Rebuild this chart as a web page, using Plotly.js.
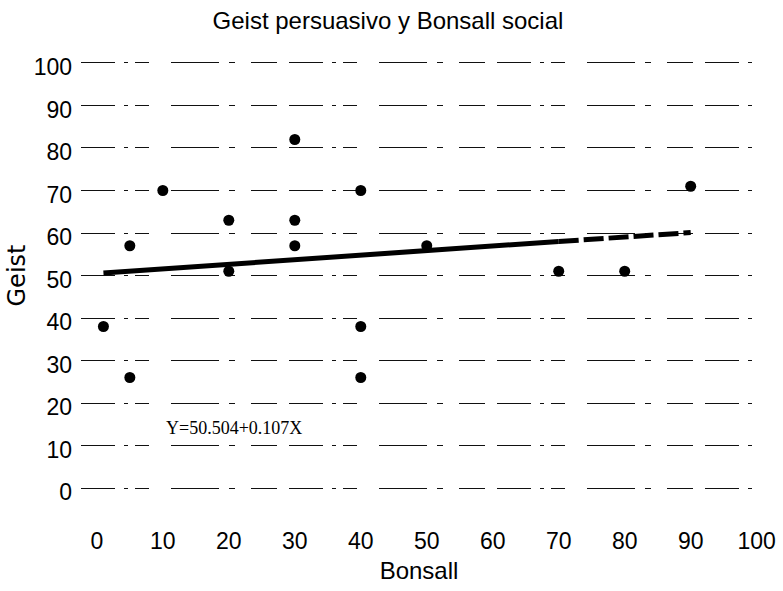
<!DOCTYPE html>
<html>
<head>
<meta charset="utf-8">
<script src="https://cdn.plot.ly/plotly-3.0.1.min.js"></script>
<style>html,body{margin:0;padding:0;background:#fff;}#chart{width:783px;height:591px;}</style>
</head>
<body>
<div id="chart"></div>
<script>
// Data
const bonsall = [1, 5, 5, 10, 20, 20, 30, 30, 30, 40, 40, 40, 50, 70, 80, 90];
const geist   = [38, 26, 57, 70, 63, 51, 82, 63, 57, 70, 38, 26, 57, 51, 51, 71];

// Regression line Y = 50.504 + 0.107X (solid part, then dashed part)
const fitSolidX = [1, 70];
const fitSolidY = [50.6, 58.0];
const fitDashX  = [70, 90];
const fitDashY  = [58.0, 60.1];

const xTicks = [0, 10, 20, 30, 40, 50, 60, 70, 80, 90, 100];
const yTicks = [0, 10, 20, 30, 40, 50, 60, 70, 80, 90, 100];

const chartTitle = 'Geist persuasivo y Bonsall social';
const xLabel = 'Bonsall';
const yLabel = 'Geist';
const equation = 'Y=50.504+0.107X';

const sans = '"Liberation Sans", Arial, sans-serif';

const traces = [
  {
    x: fitSolidX, y: fitSolidY, type: 'scatter', mode: 'lines',
    line: {color: '#000', width: 5}, hoverinfo: 'skip', showlegend: false
  },
  {
    x: fitDashX, y: fitDashY, type: 'scatter', mode: 'lines',
    line: {color: '#000', width: 5, dash: '20px,5px'}, hoverinfo: 'skip', showlegend: false
  },
  {
    x: bonsall, y: geist, type: 'scatter', mode: 'markers',
    marker: {color: '#000', size: 11, symbol: 'circle'}, showlegend: false
  }
];

const layout = {
  width: 783, height: 591,
  paper_bgcolor: '#fff', plot_bgcolor: '#fff',
  margin: {l: 81, r: 26, t: 55, b: 95},
  title: {
    text: chartTitle,
    font: {family: sans, size: 24, color: '#000'},
    x: 0.4955, xref: 'container', xanchor: 'center',
    y: 0.9645, yref: 'container', yanchor: 'middle'
  },
  xaxis: {
    range: [-2.4, 100.05],
    tickvals: xTicks, ticktext: xTicks.map(String),
    showgrid: false, zeroline: false, showline: false, ticks: '',
    ticklabelstandoff: 29,
    tickfont: {family: sans, size: 23, color: '#000'},
    title: {text: xLabel, standoff: 9, font: {family: sans, size: 24, color: '#000'}},
    automargin: false
  },
  yaxis: {
    range: [-1.88, 101.88],
    tickvals: yTicks, ticktext: yTicks.map(String),
    showgrid: true, gridcolor: '#111', gridwidth: 1,
    griddash: '34px,9px,4px,7px,14px,22px,48px,10px,6px,16px,26px,12px',
    zeroline: false, showline: false, ticks: '',
    ticklabelstandoff: 8, ticklabelshift: 4,
    tickfont: {family: sans, size: 23, color: '#000'},
    title: {text: yLabel, standoff: 1, font: {family: '"DejaVu Sans", sans-serif', size: 24, color: '#000'}},
    automargin: false
  },
  annotations: [
    {
      x: 20.8, y: 14.1, xref: 'x', yref: 'y', text: equation, showarrow: false,
      font: {family: '"Liberation Serif", "Times New Roman", serif', size: 18, color: '#000'},
      xanchor: 'center', yanchor: 'middle'
    }
  ],
  showlegend: false
};

Plotly.newPlot('chart', traces, layout, {displayModeBar: false, staticPlot: true});
</script>
</body>
</html>
